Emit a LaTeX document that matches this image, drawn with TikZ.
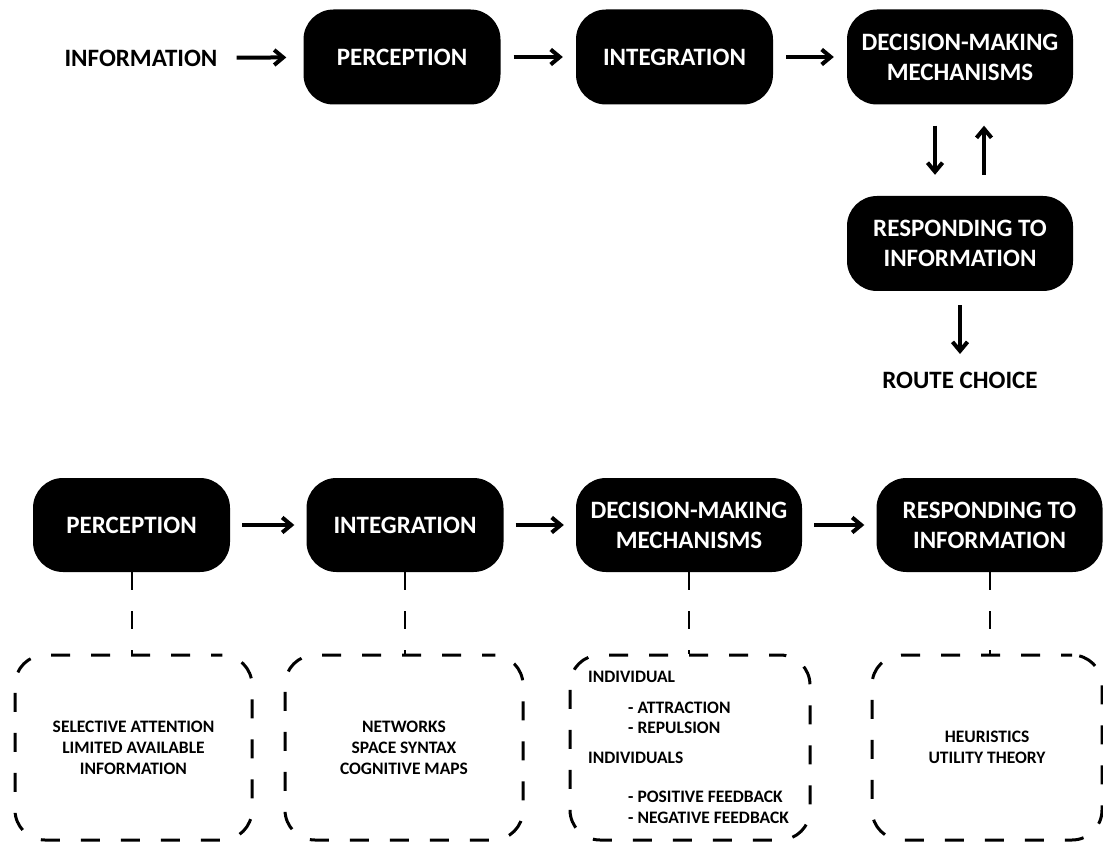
\documentclass[tikz,border=0pt]{standalone}
\usepackage{fontspec}
\setmainfont{Carlito}
\usetikzlibrary{arrows.meta}

\begin{document}
\begin{tikzpicture}[x=1pt, y=-1pt,
    stage/.style = {rectangle, rounded corners=30pt, fill=black, text=white,
        minimum width=197pt, minimum height=95pt, align=center,
        font=\bfseries\fontsize{25}{30}\selectfont},
    widestage/.style = {stage, minimum width=226pt},
    plain/.style = {inner sep=0pt, font=\bfseries\fontsize{25}{30}\selectfont},
    note/.style = {draw, line width=3pt, dash pattern=on 19pt off 21pt,
        dash phase=8pt, rounded corners=30pt, minimum height=185pt, align=center,
        font=\bfseries\fontsize{17.5}{21}\selectfont},
    item/.style = {anchor=west, inner sep=0pt,
        font=\bfseries\fontsize{17.5}{21}\selectfont},
    flow/.style = {-{Straight Barb[length=9pt,width=15pt]}, line width=4pt,
        shorten <=13pt, shorten >=13pt},
    link/.style = {line width=2pt, dash pattern=on 18pt off 21pt}]

\useasboundingbox (0,0) rectangle (1103,842);

% Top chain
\node[plain] (info) at (141,58) {INFORMATION};
\node[stage] (perc1) at (402,57) {PERCEPTION};
\node[stage] (integ1) at (674.5,57) {INTEGRATION};
\node[widestage] (dec1) at (960,57) {DECISION-MAKING\\MECHANISMS};
\node[widestage] (resp1) at (960,243.5) {RESPONDING TO\\INFORMATION};
\node[plain] (route) at (960,380) {ROUTE CHOICE};

\draw[flow, shorten <=19pt, shorten >=17pt] (info) -- (perc1);
\draw[flow] (perc1) -- (integ1);
\draw[flow] (integ1) -- (dec1);
\draw[flow, shorten <=21pt, shorten >=21pt] ([xshift=-25pt]dec1.south) -- ([xshift=-25pt]resp1.north);
\draw[flow, shorten <=21pt, shorten >=21pt] ([xshift=24pt]resp1.north) -- ([xshift=24pt]dec1.south);
\draw[flow, shorten <=14pt, shorten >=26pt] (resp1) -- (route.center);

% Bottom chain
\node[stage, minimum height=94pt] (perc2) at (131.5,525) {PERCEPTION};
\node[stage, minimum height=94pt] (integ2) at (405,525) {INTEGRATION};
\node[widestage, minimum height=94pt] (dec2) at (689,525) {DECISION-MAKING\\MECHANISMS};
\node[widestage, minimum height=94pt] (resp2) at (989.5,525) {RESPONDING TO\\INFORMATION};

\draw[flow, shorten <=12pt, shorten >=12pt] (perc2) -- (integ2);
\draw[flow, shorten <=12pt, shorten >=12pt] (integ2) -- (dec2);
\draw[flow, shorten <=12pt, shorten >=12pt] (dec2) -- (resp2);

% Notes
\node[note, minimum width=237pt] (note1) at (133.5,747.5) {SELECTIVE ATTENTION\\LIMITED AVAILABLE\\INFORMATION};
\node[note, minimum width=238pt] (note2) at (404,747.5) {NETWORKS\\SPACE SYNTAX\\COGNITIVE MAPS};
\node[note, minimum width=240pt] (note3) at (690,747.5) {};
\node[note, minimum width=230pt] (note4) at (987,747.5) {HEURISTICS\\UTILITY THEORY};

\node[item] (ind) at (588,677) {INDIVIDUAL};
\node[item] (attr) at (628,708) {- ATTRACTION};
\node[item] (rep) at (628,728) {- REPULSION};
\node[item] (inds) at (588,758) {INDIVIDUALS};
\node[item] (pos) at (628,797) {- POSITIVE FEEDBACK};
\node[item] (neg) at (628,818) {- NEGATIVE FEEDBACK};

% Links to notes
\draw[link] (perc2.south) -- (perc2.south |- note1.north);
\draw[link] (integ2.south) -- (integ2.south |- note2.north);
\draw[link] (dec2.south) -- (dec2.south |- note3.north);
\draw[link] (resp2.south) -- (resp2.south |- note4.north);
\end{tikzpicture}
\end{document}
